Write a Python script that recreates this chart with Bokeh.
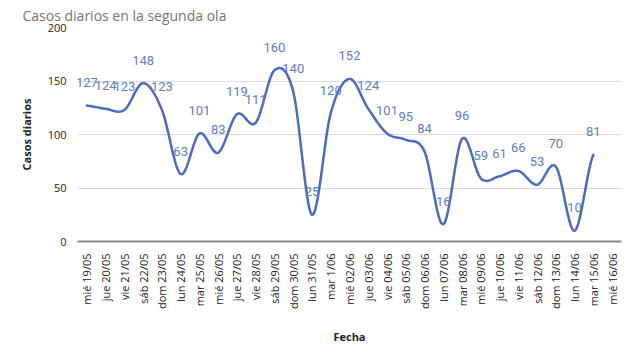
import numpy as np
from bokeh.plotting import figure
from bokeh.models import Range1d, FixedTicker, ColumnDataSource
from bokeh.core.properties import value
from bokeh.embed import file_html
from bokeh.resources import INLINE

fechas = ["mié 19/05", "jue 20/05", "vie 21/05", "sáb 22/05", "dom 23/05", "lun 24/05",
          "mar 25/05", "mié 26/05", "jue 27/05", "vie 28/05", "sáb 29/05", "dom 30/05",
          "lun 31/05", "mar 1/06", "mié 02/06", "jue 03/06", "vie 04/06", "sáb 05/06",
          "dom 06/06", "lun 07/06", "mar 08/06", "mié 09/06", "jue 10/06", "vie 11/06",
          "sáb 12/06", "dom 13/06", "lun 14/06", "mar 15/06", "mié 16/06"]
casos = [127, 124, 123, 148, 123, 63, 101, 83, 119, 111, 160, 140, 25, 120, 152,
         124, 101, 95, 84, 16, 96, 59, 61, 66, 53, 70, 10, 81]
y_ticks = [0, 50, 100, 150, 200]
titulo = "Casos diarios en la segunda ola"

LINE = "#4a6cc0"
LABEL = "#5d7dc4"

p = figure(width=640, height=360, output_backend="svg", toolbar_location=None,
           x_range=Range1d(-0.5, len(fechas) - 0.5), y_range=Range1d(0, 200),
           min_border_left=77, min_border_right=19, min_border_top=25, min_border_bottom=119)
p.outline_line_color = None
p.background_fill_color = "white"
p.border_fill_color = "white"

p.title.text = titulo
p.title.align = "left"
p.title.offset = -55
p.title.standoff = 6
p.title.text_font = "Open Sans"
p.title.text_font_size = "14px"
p.title.text_font_style = "normal"
p.title.text_color = "#757575"

# smooth curve (Catmull-Rom through the data points)
xi = np.arange(len(casos), dtype=float)
yi = np.array(casos, dtype=float)
xs, ys = [], []
n = len(yi)
for i in range(n - 1):
    p0 = yi[max(i - 1, 0)]
    p1 = yi[i]
    p2 = yi[i + 1]
    p3 = yi[min(i + 2, n - 1)]
    t = np.linspace(0, 1, 16, endpoint=(i == n - 2))
    yy = 0.5 * ((2 * p1) + (-p0 + p2) * t + (2 * p0 - 5 * p1 + 4 * p2 - p3) * t ** 2
                + (-p0 + 3 * p1 - 3 * p2 + p3) * t ** 3)
    xs.extend(list(xi[i] + t))
    ys.extend(list(yy))
p.line(xs, ys, line_color=LINE, line_width=2.5, line_join="round", line_cap="round")

src = ColumnDataSource(dict(x=xi, y=yi, t=[str(v) for v in casos]))
p.text(x="x", y="y", text="t", source=src, y_offset=-23, text_align="center",
       text_baseline="middle", text_color=LABEL, text_font=value("Roboto"),
       text_font_size="13px")

p.xaxis.ticker = FixedTicker(ticks=list(range(len(fechas))))
p.xaxis.major_label_overrides = {i: f for i, f in enumerate(fechas)}
p.xaxis.major_label_orientation = np.pi / 2
p.xaxis.major_label_text_font = "Open Sans"
p.xaxis.major_label_text_font_size = "11px"
p.xaxis.major_label_text_color = "#222222"
p.xaxis.major_label_standoff = 6
p.xaxis.axis_label = "Fecha"
p.xaxis.axis_label_text_font = "Open Sans"
p.xaxis.axis_label_text_font_size = "11px"
p.xaxis.axis_label_text_font_style = "bold"
p.xaxis.axis_label_text_color = "#222222"
p.xaxis.axis_label_standoff = 17
p.xaxis.axis_line_color = "#8a8a8a"
p.xaxis.axis_line_width = 2
p.xaxis.major_tick_line_color = None
p.xaxis.minor_tick_line_color = None

p.yaxis.ticker = FixedTicker(ticks=y_ticks)
p.yaxis.major_label_text_font = "Open Sans"
p.yaxis.major_label_text_font_size = "11px"
p.yaxis.major_label_text_color = "#222222"
p.yaxis.major_label_standoff = 5
p.yaxis.axis_label = "Casos diarios"
p.yaxis.axis_label_text_font = "Open Sans"
p.yaxis.axis_label_text_font_size = "11px"
p.yaxis.axis_label_text_font_style = "bold"
p.yaxis.axis_label_text_color = "#222222"
p.yaxis.axis_label_standoff = 11
p.yaxis.axis_line_color = None
p.yaxis.major_tick_line_color = None
p.yaxis.minor_tick_line_color = None

p.xgrid.grid_line_color = None
p.ygrid.grid_line_color = "#d9d9d9"
p.ygrid.grid_line_width = 1

open("out.html", "w").write(file_html(p, INLINE))
